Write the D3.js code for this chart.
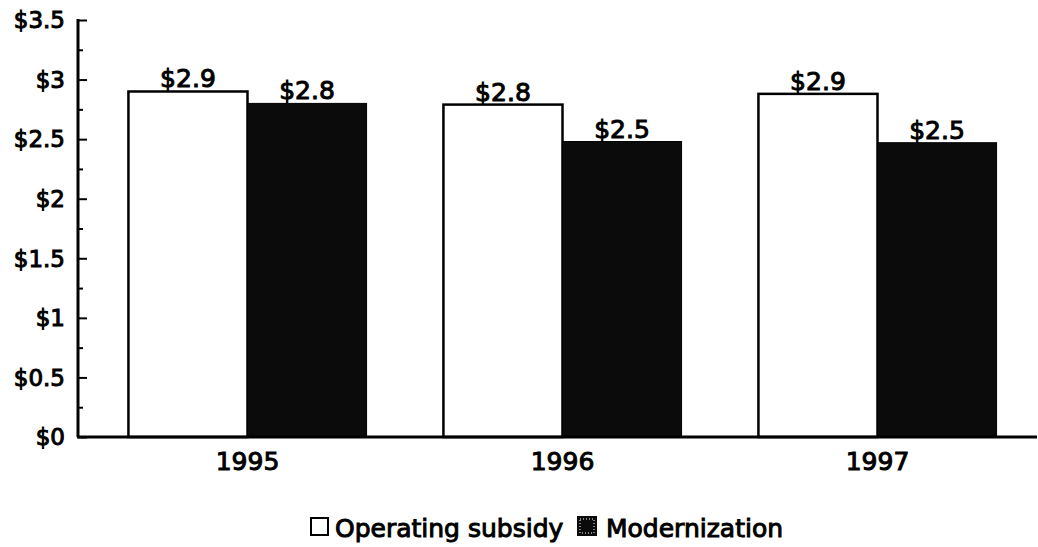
<!DOCTYPE html>
<html>
<head>
<meta charset="utf-8">
<script src="https://cdn.jsdelivr.net/npm/d3@7"></script>
<style>
  body { margin: 0; background: #fff; }
  text { font-family: 'DejaVu Sans', sans-serif; fill: #000; stroke: #000; stroke-width: 1px; }
</style>
</head>
<body>
<script>
const WIDTH = 1038;
const HEIGHT = 547;

// data (billions of dollars)
const years = ['1995', '1996', '1997'];
const series = ['Operating subsidy', 'Modernization'];
const operating = [2.90, 2.79, 2.88];
const modernization = [2.80, 2.48, 2.47];
const yTicks = [0, 0.5, 1, 1.5, 2, 2.5, 3, 3.5];

const colors = { 'Operating subsidy': '#fff', 'Modernization': '#0b0b0b' };

const chart = {
  left: 78,
  right: 1037,
  top: 20,
  bottom: 437,
}

const rows = years.map((y, i) => ({
  year: y,
  values: [
    { key: series[0], value: operating[i] },
    { key: series[1], value: modernization[i] },
  ]
}));

const svg = d3.select('body')
  .append('svg')
  .attr('width', WIDTH)
  .attr('height', HEIGHT);

const x0 = d3.scaleBand()
  .domain(years)
  .range([90, 1035])
  .paddingInner(0.244)
  .paddingOuter(0.122);

const x1 = d3.scaleBand()
  .domain(series)
  .range([0, x0.bandwidth()]);

const yScale = d3.scaleLinear()
  .domain([0, 3.5])
  .range([chart.bottom, chart.top]);

const fmt = d3.format('.1f');

// bars
const groups = svg.selectAll('g.year')
  .data(rows)
  .enter()
  .append('g')
  .attr('class', 'year')
  .attr('transform', d => 'translate(' + x0(d.year) + ',0)');

groups.selectAll('rect')
  .data(d => d.values)
  .enter()
  .append('rect')
  .attr('x', d => x1(d.key))
  .attr('y', d => yScale(d.value))
  .attr('width', x1.bandwidth())
  .attr('height', d => yScale(0) - yScale(d.value))
  .attr('fill', d => colors[d.key])
  .attr('stroke', '#000')
  .attr('stroke-width', d => d.key == series[0] ? 2.5 : 1);

groups.selectAll('text.val')
  .data(d => d.values)
  .enter()
  .append('text')
  .attr('class', 'val')
  .attr('x', d => x1(d.key) + x1.bandwidth() / 2)
  .attr('y', d => yScale(d.value) - 4)
  .attr('text-anchor', 'middle')
  .style('font-size', '25px')
  .text(d => '$' + fmt(d.value));

// y axis with minor ticks pointing inward
const yAxis = d3.axisRight(yScale)
  .tickValues(d3.range(0, 3.51, 0.25))
  .tickSize(0)
  .tickFormat('');

const yg = svg.append('g')
  .attr('transform', 'translate(' + chart.left + ',0)')
  .call(yAxis);

yg.select('.domain').remove();
yg.selectAll('.tick line')
  .attr('x2', d => (Math.round(d * 4) % 2 == 0) ? 9 : 5)
  .attr('stroke', '#000')
  .attr('stroke-width', 2);

yg.append('line')
  .attr('x1', 0).attr('x2', 0)
  .attr('y1', yScale(3.5) - 1).attr('y2', yScale(0))
  .attr('stroke', '#000')
  .attr('stroke-width', 3);

svg.append('g')
  .selectAll('text')
  .data(yTicks)
  .enter()
  .append('text')
  .attr('x', 65)
  .attr('y', d => yScale(d))
  .attr('dy', '0.36em')
  .attr('text-anchor', 'end')
  .style('font-size', '23px')
  .text(d => '$' + d);

// x axis
svg.append('line')
  .attr('x1', chart.left - 1).attr('x2', chart.right)
  .attr('y1', yScale(0)).attr('y2', yScale(0))
  .attr('stroke', '#000')
  .attr('stroke-width', 3);

svg.append('g')
  .selectAll('text')
  .data(years)
  .enter()
  .append('text')
  .attr('x', d => x0(d) + x0.bandwidth() / 2)
  .attr('y', 470)
  .attr('text-anchor', 'middle')
  .style('font-size', '25px')
  .text(d => d);

// legend
const legend = svg.append('g').attr('id', 'legend');

legend.append('rect')
  .attr('x', 311).attr('y', 518)
  .attr('width', 17).attr('height', 17)
  .attr('fill', '#fff')
  .attr('stroke', '#000')
  .attr('stroke-width', 2);

legend.append('text')
  .attr('x', 335).attr('y', 537)
  .style('font-size', '25px')
  .text(series[0]);

legend.append('rect')
  .attr('x', 577).attr('y', 516)
  .attr('width', 20).attr('height', 20)
  .attr('fill', '#0b0b0b');

legend.append('rect')
  .attr('x', 580).attr('y', 519)
  .attr('width', 14).attr('height', 14)
  .attr('fill', 'none')
  .attr('stroke', '#fff')
  .attr('stroke-width', 1)
  .attr('stroke-dasharray', '1,2');

legend.append('text')
  .attr('x', 606).attr('y', 537)
  .style('font-size', '25px')
  .text(series[1]);
</script>
</body>
</html>
